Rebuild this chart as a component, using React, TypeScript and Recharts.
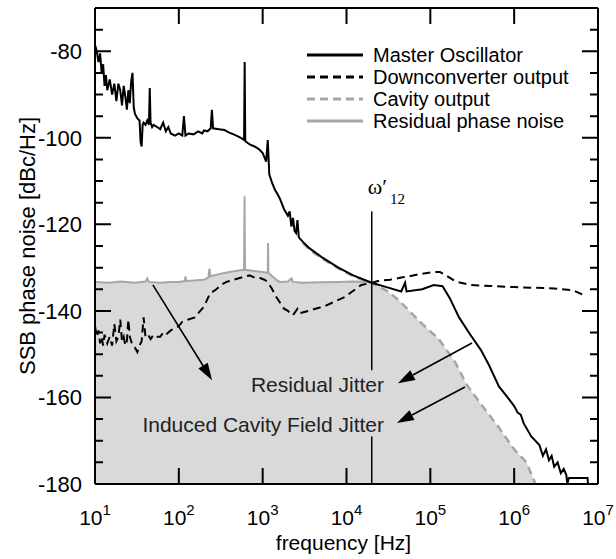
import {
  Area,
  ComposedChart,
  Legend,
  Line,
  ReferenceDot,
  ReferenceLine,
  XAxis,
  YAxis,
} from "recharts";

const FONT = '"Liberation Sans", Arial, Helvetica, sans-serif';
const SERIF = '"Liberation Serif", "Times New Roman", serif';
const GRAY = "#a6a6a6";
const SHADE = "#d9d9d9";
const TICK = "#000";

// [frequency Hz, level dBc/Hz]
const masterOsc: [number, number][] = [
  [10, -78.5], [10.5, -80], [11, -82.5], [11.5, -80.5], [12, -85], [12.5, -83], [13, -88],
  [13.5, -85.5], [14, -89], [15, -86.5], [16, -90], [17, -87.5], [18, -91.5], [19, -87.5],
  [20, -89], [21, -92.5], [22, -88], [23, -90.5], [24, -93.5], [25, -89], [26, -92], [27, -87],
  [28, -85], [29, -93], [30, -94.5], [32, -95.5], [34, -96], [35, -101], [36, -102], [37, -97],
  [38, -96.5], [40, -97], [42, -96], [44, -97], [45, -88.5], [46, -96.5], [48, -97.5], [50, -97],
  [55, -97.5], [60, -98], [65, -96.5], [70, -98.5], [75, -97.5], [80, -99], [90, -99.5],
  [100, -99], [110, -99.5], [115, -95], [120, -99.5], [130, -99], [150, -99.2], [170, -98.5],
  [190, -99], [200, -98.3], [220, -98.5], [240, -97.8], [248, -93.5], [256, -97.8], [300, -98],
  [350, -98.2], [400, -98.8], [450, -99.2], [500, -99.6], [550, -100], [600, -100.5], [610, -82.5],
  [620, -100.8], [700, -101.5], [800, -102], [900, -102.6], [1000, -103.5], [1100, -105.5],
  [1150, -100.5], [1200, -108.5], [1300, -110.5], [1400, -112], [1500, -113], [1600, -114],
  [1800, -116.5], [2000, -118], [2100, -117], [2200, -120.5], [2300, -118.5], [2400, -121.5],
  [2500, -122], [2600, -119], [2700, -123], [3000, -124], [3600, -125.5], [5000, -127.5],
  [8000, -130], [12000, -131.8], [20000, -133.5], [30000, -134.5], [45000, -135.5],
  [50000, -133.5], [52000, -135.5], [80000, -135], [110000, -134], [140000, -134.3],
  [170000, -137], [220000, -141.5], [300000, -145.5], [400000, -149], [500000, -152.5],
  [660000, -157.5], [800000, -159.5], [1000000, -162], [1100000, -163.5], [1200000, -164],
  [1300000, -166], [1600000, -169], [2000000, -171], [2200000, -173.5], [2400000, -172],
  [2600000, -174.5], [2800000, -173.5], [3000000, -176], [3300000, -175], [3600000, -177.5],
  [3900000, -176.5], [4200000, -178], [4300000, -180], [4500000, -178.6], [7500000, -178.6],
  [7600000, -180],
];

const downconv: [number, number][] = [
  [10, -143.5], [10.5, -146], [11, -144.5], [11.5, -147.5], [12, -146], [12.5, -148],
  [13, -145.5], [14, -147.5], [15, -146], [16, -148], [17, -143], [18, -147], [19, -146],
  [20, -142], [21, -147], [22, -146], [23, -148], [24, -147], [25, -142], [26, -146], [28, -148],
  [30, -148.5], [32, -149.5], [34, -148], [36, -147], [38, -141.5], [40, -146], [43, -145.5],
  [46, -146.5], [50, -145.5], [55, -146], [60, -146], [65, -145], [70, -145.5], [80, -144.5],
  [90, -144], [100, -143.5], [110, -142.5], [130, -142], [155, -141.5], [180, -140], [200, -139],
  [235, -136], [280, -135], [330, -133.8], [370, -133.3], [450, -132.8], [580, -132.2],
  [700, -131.8], [800, -132.3], [930, -132.4], [1050, -132.8], [1150, -133.3], [1300, -135],
  [1400, -136.3], [1600, -138], [1800, -139.5], [2000, -140], [2300, -141], [2600, -139.5],
  [2800, -140.5], [3500, -140], [5500, -138.9], [9500, -136.8], [15000, -134], [20000, -133.5],
  [25000, -133], [33000, -132.8], [45000, -132.3], [56000, -132], [75000, -131.5],
  [110000, -131], [130000, -131], [160000, -132], [200000, -133.2], [300000, -134],
  [1000000, -134.5], [3000000, -134.8], [5000000, -135.2], [7000000, -136.5],
];

const residual: [number, number][] = [
  [10, -133.3], [15, -133.5], [20, -133.2], [30, -133.5], [40, -133.2], [42, -132.5],
  [44, -133.3], [60, -133.5], [80, -133.3], [100, -133.3], [118, -133.1], [120, -132],
  [122, -133.1], [150, -133], [200, -132.8], [225, -132.3], [232, -130.2], [238, -132],
  [300, -131.5], [400, -131], [500, -130.7], [600, -130.5], [608, -113.5], [616, -130.5],
  [800, -130.8], [1000, -131], [1150, -131.2], [1160, -124.3], [1170, -131.2], [1300, -132],
  [1500, -133], [1600, -133.3], [2000, -133.2], [2200, -132.5], [2300, -133.3], [3000, -133.5],
  [5000, -133.4], [8000, -133.3], [12000, -133.2], [20000, -133.3],
];

const cavity: [number, number][] = [
  [3000, -124.3], [3600, -125.8], [5000, -127.8], [8000, -130.2], [12000, -132],
  [20000, -133.6], [30000, -135.3], [42000, -137.5], [56000, -140], [80000, -143],
  [126000, -146.5], [170000, -150], [200000, -152], [270000, -157], [400000, -161.5],
  [660000, -167], [1000000, -172], [1400000, -175], [1800000, -180],
];

const xTicks = [10, 100, 1000, 10000, 100000, 1000000, 10000000];
const xInnerTicks = [100, 1000, 10000, 100000, 1000000];
const yTicks = [-180, -160, -140, -120, -100, -80];
const yMajorMarks = [-160, -140, -120, -100, -80];
const yMinorMarks = [
  -175, -170, -165, -155, -150, -145, -135, -130, -125, -115, -110, -105, -95, -90, -85, -75,
];

const omegaFreq = 20000;

const legendItems = [
  { name: "Master Oscillator", color: "#000", dash: undefined },
  { name: "Downconverter output", color: "#000", dash: "8 5" },
  { name: "Cavity output", color: GRAY, dash: "8 5" },
  { name: "Residual phase noise", color: GRAY, dash: undefined },
];

const rows = (pts: [number, number][]) => pts.map(([f, v]) => ({ f, v }));
const shade = rows([...residual, ...cavity.filter(([f]) => f > omegaFreq)]);

function BottomTick({ x, y, payload }: any) {
  const exp = Math.round(Math.log10(payload.value));
  return (
    <text x={x} y={y + 41} textAnchor="middle" fontSize={21} fontFamily={FONT} fill="#000">
      10
      <tspan dy={-10} fontSize={15}>
        {exp}
      </tspan>
    </text>
  );
}

function LeftTick({ x, y, payload }: any) {
  return (
    <text x={x - 13} y={y} dy="0.36em" textAnchor="end" fontSize={22} fontFamily={FONT} fill="#000">
      {payload.value}
    </text>
  );
}

// inward tick marks at both ends of a full-width / full-height reference line
const hMarks = (len: number) =>
  function HMarks({ x1, x2, y1 }: any) {
    const l = Math.min(x1, x2);
    const r = Math.max(x1, x2);
    return (
      <path d={`M${l},${y1}H${l + len}M${r - len},${y1}H${r}`} stroke={TICK} strokeWidth={2} fill="none" />
    );
  };
const vMarks = (len: number) =>
  function VMarks({ x1, y1, y2 }: any) {
    const t = Math.min(y1, y2);
    const b = Math.max(y1, y2);
    return (
      <path d={`M${x1},${t}V${t + len}M${x1},${b - len}V${b}`} stroke={TICK} strokeWidth={2} fill="none" />
    );
  };
const MajorH = hMarks(16);
const MinorH = hMarks(8);
const MajorV = vMarks(16);

function YTitle({ viewBox }: any) {
  const cy = viewBox.y + viewBox.height / 2;
  return (
    <text
      transform={`translate(${viewBox.x + 27}, ${cy}) rotate(-90)`}
      textAnchor="middle"
      dominantBaseline="central"
      fontSize={22}
      fontFamily={FONT}
      fill="#000"
    >
      SSB phase noise [dBc/Hz]
    </text>
  );
}

function XTitle({ viewBox }: any) {
  return (
    <text
      x={viewBox.x + viewBox.width / 2 - 3}
      y={viewBox.y + 66}
      textAnchor="middle"
      fontSize={21}
      fontFamily={FONT}
      fill="#000"
    >
      frequency [Hz]
    </text>
  );
}

function Arrow({ x1, y1, x2, y2 }: any) {
  const a = Math.atan2(y2 - y1, x2 - x1);
  const len = 17;
  const half = 5.5;
  const bx = x2 - len * Math.cos(a);
  const by = y2 - len * Math.sin(a);
  const px = -Math.sin(a) * half;
  const py = Math.cos(a) * half;
  return (
    <g>
      <line x1={x1} y1={y1} x2={bx} y2={by} stroke="#000" strokeWidth={1.6} />
      <polygon points={`${x2},${y2} ${bx + px},${by + py} ${bx - px},${by - py}`} fill="#000" />
    </g>
  );
}

function OmegaLine({ x1, y1, x2, y2 }: any) {
  return (
    <g>
      <line x1={x1} y1={y1} x2={x2} y2={y2} stroke="#000" strokeWidth={1.5} />
      <text x={x1 - 4} y={y1 - 17} fontSize={22} fontFamily={SERIF} fill="#000">
        ω′
        <tspan dx={3} dy={10} fontSize={15}>
          12
        </tspan>
      </text>
    </g>
  );
}

function PlainLine({ x1, y1, x2, y2 }: any) {
  return <line x1={x1} y1={y1} x2={x2} y2={y2} stroke="#000" strokeWidth={1.5} />;
}

const note = (text: string) =>
  function Note({ cx, cy }: any) {
    return (
      <text x={cx} y={cy} textAnchor="end" fontSize={21} fontFamily={FONT} fill="#222">
        {text}
      </text>
    );
  };

function LegendBox() {
  return (
    <div style={{ fontFamily: FONT, fontSize: 20, color: "#000" }}>
      {legendItems.map((s) => (
        <div key={s.name} style={{ display: "flex", alignItems: "center", height: 22 }}>
          <svg width={56} height={22} style={{ display: "block" }}>
            <line x1={0} x2={56} y1={11} y2={11} stroke={s.color} strokeWidth={3} strokeDasharray={s.dash} />
          </svg>
          <span style={{ marginLeft: 10, lineHeight: "22px", whiteSpace: "nowrap" }}>{s.name}</span>
        </div>
      ))}
    </div>
  );
}

const xCommon = {
  type: "number" as const,
  scale: "log" as const,
  domain: [10, 10000000],
  allowDataOverflow: true,
  dataKey: "f",
  ticks: xTicks,
  interval: 0 as const,
  tickSize: 0,
  tickMargin: 0,
  tickLine: false,
  axisLine: { stroke: "#000", strokeWidth: 2 },
};
const yCommon = {
  type: "number" as const,
  domain: [-180, -70],
  allowDataOverflow: true,
  ticks: yTicks,
  interval: 0 as const,
  tickSize: 0,
  tickMargin: 0,
  tickLine: false,
  axisLine: { stroke: "#000", strokeWidth: 2 },
};

export default function App() {
  return (
    <div style={{ position: "absolute", left: 0, top: 0, width: 616, height: 559, background: "#fff" }}>
      <ComposedChart width={616} height={559} margin={{ top: 0, right: 0, bottom: 0, left: 0 }}>
        <XAxis {...xCommon} height={75} tick={<BottomTick />} label={{ content: XTitle }} />
        <XAxis {...xCommon} xAxisId="top" orientation="top" height={8} tick={false} />
        <YAxis {...yCommon} width={95} tick={<LeftTick />} label={{ content: YTitle }} />
        <YAxis {...yCommon} yAxisId="right" orientation="right" width={18} tick={false} />

        <Legend
          layout="vertical"
          align="center"
          verticalAlign="middle"
          content={<LegendBox />}
          wrapperStyle={{ left: 307, top: 44, width: "auto", height: "auto" }}
        />

        <Area
          data={shade}
          dataKey="v"
          baseValue={-180}
          type="linear"
          fill={SHADE}
          fillOpacity={1}
          stroke="none"
          isAnimationActive={false}
          legendType="none"
        />
        <Line data={rows(residual)} dataKey="v" name="Residual phase noise" type="linear" stroke={GRAY} strokeWidth={2} dot={false} activeDot={false} isAnimationActive={false} />
        <Line data={rows(cavity)} dataKey="v" name="Cavity output" type="linear" stroke={GRAY} strokeWidth={2.5} strokeDasharray="8 5" dot={false} activeDot={false} isAnimationActive={false} />
        <Line data={rows(downconv)} dataKey="v" name="Downconverter output" type="linear" stroke="#000" strokeWidth={2} strokeDasharray="8 5" dot={false} activeDot={false} isAnimationActive={false} />
        <Line data={rows(masterOsc)} dataKey="v" name="Master Oscillator" type="linear" stroke="#000" strokeWidth={2} dot={false} activeDot={false} isAnimationActive={false} />

        {yMajorMarks.map((v) => (
          <ReferenceLine key={`ymaj${v}`} y={v} shape={MajorH} />
        ))}
        {yMinorMarks.map((v) => (
          <ReferenceLine key={`ymin${v}`} y={v} shape={MinorH} />
        ))}
        {xInnerTicks.map((f) => (
          <ReferenceLine key={`x${f}`} x={f} shape={MajorV} />
        ))}

        <ReferenceLine segment={[{ x: omegaFreq, y: -117 }, { x: omegaFreq, y: -153.7 }]} shape={OmegaLine} />
        <ReferenceLine segment={[{ x: omegaFreq, y: -169 }, { x: omegaFreq, y: -180 }]} shape={PlainLine} />

        <ReferenceLine segment={[{ x: 49, y: -134 }, { x: 249, y: -156 }]} shape={Arrow} />
        <ReferenceLine segment={[{ x: 314000, y: -147.4 }, { x: 41100, y: -156.7 }]} shape={Arrow} />
        <ReferenceLine segment={[{ x: 259000, y: -157.6 }, { x: 40000, y: -165.9 }]} shape={Arrow} />

        <ReferenceDot x={28000} y={-158.7} r={0} shape={note("Residual Jitter")} />
        <ReferenceDot x={28000} y={-168} r={0} shape={note("Induced Cavity Field Jitter")} />
      </ComposedChart>
    </div>
  );
}
